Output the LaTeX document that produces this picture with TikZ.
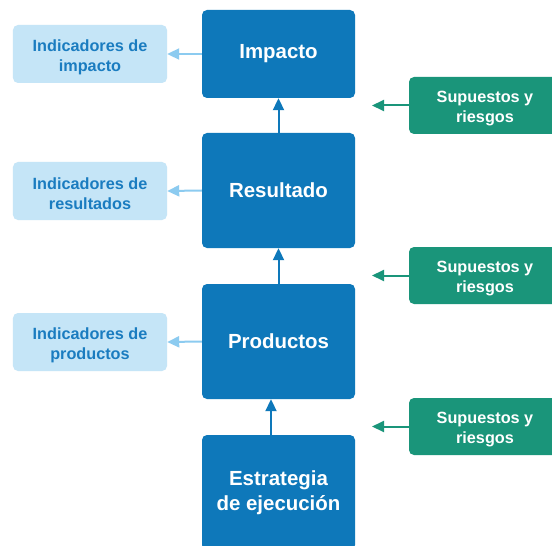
\documentclass[tikz,border=0pt]{standalone}
\usepackage{fontspec}
\setmainfont{Liberation Sans}
\usetikzlibrary{arrows.meta,positioning}
\definecolor{azul}{HTML}{0E78BA}
\definecolor{celeste}{HTML}{C5E5F7}
\definecolor{celestetxt}{HTML}{1A7CC0}
\definecolor{celestefl}{HTML}{8CCBF0}
\definecolor{verde}{HTML}{1A957A}
\newcommand\alto{\rule{0pt}{18bp}}
\tikzset{
	nivel/.style={fill=azul, rounded corners=5bp, minimum width=153bp, minimum height=115bp, text=white, font=\bfseries\fontsize{20.5}{25}\selectfont, align=center},
	indicador/.style={fill=celeste, rounded corners=5bp, minimum width=154bp, minimum height=58bp, text=celestetxt, font=\bfseries\fontsize{16.3}{20}\selectfont, align=center},
	supuesto/.style={fill=verde, rounded corners=5bp, minimum width=152bp, minimum height=57bp, text=white, font=\bfseries\fontsize{16.3}{20}\selectfont, align=center},
	flecha/.style={line width=2bp, -{Triangle[length=12bp,width=11bp]}},
}

\begin{document}
\begin{tikzpicture}[x=1bp,y=-1bp]
			%%%%% START %%%%%
			\clip (0,0) rectangle (552,546);
			\fill[white] (0,0) rectangle (552,546);
			
			\node[nivel, minimum height=88bp] (impacto) at (278.5,54) {Impacto};
			\node[nivel] (resultado) at (278.5,190.5) {Resultado};
			\node[nivel] (productos) at (278.5,341.5) {Productos};
			\node[nivel] (estrategia) at (278.5,492.5) {Estrategia\\de ejecución};
			
			\node[indicador] (indimp) at (90,54) {\alto Indicadores de\\impacto};
			\node[indicador] (indres) at (90,191) {\alto Indicadores de\\resultados};
			\node[indicador] (indprod) at (90,342) {\alto Indicadores de\\productos};
			
			\node[supuesto] (sup1) at (485,105.5) {\alto Supuestos y\\riesgos};
			\node[supuesto] (sup2) at (485,275.5) {\alto Supuestos y\\riesgos};
			\node[supuesto] (sup3) at (485,426.5) {\alto Supuestos y\\riesgos};
			
			\coordinate (p1) at (372,105.5);
			\coordinate (p2) at (372,275.5);
			\coordinate (p3) at (372,426.5);
			
			% cadena hacia arriba
			\draw[flecha, azul] (resultado.north) -- (impacto.south);
			\draw[flecha, azul] (productos.north) -- (resultado.south);
			\draw[flecha, azul] ([xshift=-7.5bp]estrategia.north) -- ([xshift=-7.5bp]productos.south);
			
			% indicadores
			\draw[flecha, celestefl] (impacto.west) -- (indimp.east);
			\draw[flecha, celestefl] (resultado.west) -- (indres.east);
			\draw[flecha, celestefl] (productos.west) -- (indprod.east);
			
			% supuestos
			\draw[flecha, verde] (sup1.west) -- (p1);
			\draw[flecha, verde] (sup2.west) -- (p2);
			\draw[flecha, verde] (sup3.west) -- (p3);
			%%%%% END %%%%%
\end{tikzpicture}
\end{document}
